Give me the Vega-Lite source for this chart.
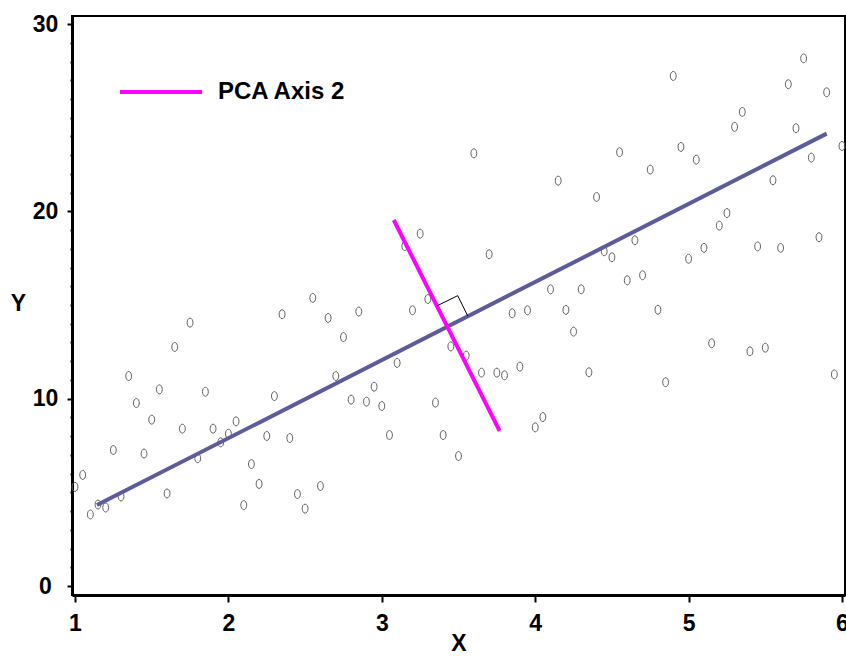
{
  "$schema": "https://vega.github.io/schema/vega-lite/v6.json",
  "autosize": "none",
  "width": 773,
  "height": 579,
  "padding": {"left": 72, "top": 16, "right": 1, "bottom": 61},
  "background": "white",
  "config": {
    "view": {"stroke": "black", "strokeWidth": 2},
    "font": "Liberation Sans"
  },
  "datasets": {
    "pts": [
      {"x": 1.00, "y": 5.29}, {"x": 1.05, "y": 5.93}, {"x": 1.10, "y": 3.82}, {"x": 1.15, "y": 4.35}, {"x": 1.20, "y": 4.19},
      {"x": 1.25, "y": 7.26}, {"x": 1.30, "y": 4.78}, {"x": 1.35, "y": 11.21}, {"x": 1.40, "y": 9.77}, {"x": 1.45, "y": 7.07},
      {"x": 1.50, "y": 8.88}, {"x": 1.55, "y": 10.50}, {"x": 1.60, "y": 4.94}, {"x": 1.65, "y": 12.76}, {"x": 1.70, "y": 8.40},
      {"x": 1.75, "y": 14.06}, {"x": 1.80, "y": 6.82}, {"x": 1.85, "y": 10.37}, {"x": 1.90, "y": 8.40}, {"x": 1.95, "y": 7.67},
      {"x": 2.00, "y": 8.13}, {"x": 2.05, "y": 8.79}, {"x": 2.10, "y": 4.32}, {"x": 2.15, "y": 6.51}, {"x": 2.20, "y": 5.45},
      {"x": 2.25, "y": 8.01}, {"x": 2.30, "y": 10.14}, {"x": 2.35, "y": 14.51}, {"x": 2.40, "y": 7.90}, {"x": 2.45, "y": 4.91},
      {"x": 2.50, "y": 4.13}, {"x": 2.55, "y": 15.38}, {"x": 2.60, "y": 5.34}, {"x": 2.65, "y": 14.31}, {"x": 2.70, "y": 11.21},
      {"x": 2.75, "y": 13.29}, {"x": 2.80, "y": 9.95}, {"x": 2.85, "y": 14.65}, {"x": 2.90, "y": 9.84}, {"x": 2.95, "y": 10.64},
      {"x": 3.00, "y": 9.61}, {"x": 3.05, "y": 8.06}, {"x": 3.10, "y": 11.91}, {"x": 3.15, "y": 18.15}, {"x": 3.20, "y": 14.72},
      {"x": 3.25, "y": 18.81}, {"x": 3.30, "y": 15.32}, {"x": 3.35, "y": 9.79}, {"x": 3.40, "y": 8.06}, {"x": 3.45, "y": 12.79},
      {"x": 3.50, "y": 6.94}, {"x": 3.55, "y": 12.30}, {"x": 3.60, "y": 23.10}, {"x": 3.65, "y": 11.39}, {"x": 3.70, "y": 17.71},
      {"x": 3.75, "y": 11.39}, {"x": 3.80, "y": 11.25}, {"x": 3.85, "y": 14.56}, {"x": 3.90, "y": 11.71}, {"x": 3.95, "y": 14.72},
      {"x": 4.00, "y": 8.47}, {"x": 4.05, "y": 9.02}, {"x": 4.10, "y": 15.84}, {"x": 4.15, "y": 21.64}, {"x": 4.20, "y": 14.74},
      {"x": 4.25, "y": 13.58}, {"x": 4.30, "y": 15.84}, {"x": 4.35, "y": 11.41}, {"x": 4.40, "y": 20.77}, {"x": 4.45, "y": 17.87},
      {"x": 4.50, "y": 17.55}, {"x": 4.55, "y": 23.16}, {"x": 4.60, "y": 16.32}, {"x": 4.65, "y": 18.46}, {"x": 4.70, "y": 16.59},
      {"x": 4.75, "y": 22.23}, {"x": 4.80, "y": 14.75}, {"x": 4.85, "y": 10.88}, {"x": 4.90, "y": 27.23}, {"x": 4.95, "y": 23.44},
      {"x": 5.00, "y": 17.47}, {"x": 5.05, "y": 22.76}, {"x": 5.10, "y": 18.05}, {"x": 5.15, "y": 12.96}, {"x": 5.20, "y": 19.24},
      {"x": 5.25, "y": 19.91}, {"x": 5.30, "y": 24.51}, {"x": 5.35, "y": 25.31}, {"x": 5.40, "y": 12.53}, {"x": 5.45, "y": 18.13},
      {"x": 5.50, "y": 12.72}, {"x": 5.55, "y": 21.66}, {"x": 5.60, "y": 18.05}, {"x": 5.65, "y": 26.79}, {"x": 5.70, "y": 24.44},
      {"x": 5.75, "y": 28.17}, {"x": 5.80, "y": 22.87}, {"x": 5.85, "y": 18.62}, {"x": 5.90, "y": 26.36}, {"x": 5.95, "y": 11.30},
      {"x": 6.00, "y": 23.49}
    ],
    "axis1": [{"x": 1.143, "y": 4.32}, {"x": 5.90, "y": 24.15}],
    "axis2": [{"x": 3.078, "y": 19.54, "s": "PCA Axis 2"}, {"x": 3.768, "y": 8.28, "s": "PCA Axis 2"}],
    "corner": [{"x": 3.361, "y": 14.96}, {"x": 3.495, "y": 15.50}, {"x": 3.560, "y": 14.42}]
  },
  "encoding": {
    "x": {
      "field": "x", "type": "quantitative",
      "scale": {"domain": [0.9804, 6.0196], "nice": false, "zero": false},
      "axis": {
        "values": [1, 2, 3, 4, 5, 6], "grid": false, "labelFlush": false, "labelOverlap": false,
        "domainColor": "black", "domainWidth": 3, "tickColor": "black", "tickWidth": 2, "tickSize": 7,
        "labelFont": "Liberation Sans", "labelFontSize": 23, "labelFontWeight": "bold", "labelColor": "black", "labelPadding": 10,
        "title": "X", "titleFont": "Liberation Sans", "titleFontSize": 23, "titleFontWeight": "bold", "titleColor": "black",
        "titleBaseline": "top", "titleY": 37
      }
    },
    "y": {
      "field": "y", "type": "quantitative",
      "scale": {"domain": [-0.48, 30.43], "nice": false, "zero": false},
      "axis": {
        "values": [0,1,2,3,4,5,6,7,8,9,10,11,12,13,14,15,16,17,18,19,20,21,22,23,24,25,26,27,28,29,30],
        "labelExpr": "datum.value % 10 === 0 ? datum.label : ''",
        "grid": false, "labelOverlap": false, "labelFlush": false,
        "domainColor": "black", "domainWidth": 3, "tickColor": "black", "tickWidth": 2,
        "tickSize": {"condition": {"test": "datum.value % 10 === 0", "value": 5}, "value": 2},
        "labelFont": "Liberation Sans", "labelFontSize": 23, "labelFontWeight": "bold", "labelColor": "black",
        "labelAlign": "center", "labelPadding": 22,
        "title": "Y", "titleFont": "Liberation Sans", "titleFontSize": 23, "titleFontWeight": "bold", "titleColor": "black",
        "titleAngle": 0, "titleAlign": "center", "titleBaseline": "middle", "titleX": -54, "titleY": 287
      }
    }
  },
  "layer": [
    {
      "data": {"name": "pts"},
      "mark": {"type": "point", "shape": "M0,-1A0.65,1,0,1,1,0,1A0.65,1,0,1,1,0,-1Z", "size": 81, "filled": false, "stroke": "#606060", "strokeWidth": 1, "opacity": 1}
    },
    {
      "data": {"name": "axis1"},
      "mark": {"type": "line", "color": "#5c5c9c", "strokeWidth": 4},
      "encoding": {}
    },
    {
      "data": {"name": "axis2"},
      "mark": {"type": "line", "strokeWidth": 4},
      "encoding": {
        "color": {
          "field": "s", "type": "nominal",
          "scale": {"domain": ["PCA Axis 2"], "range": ["#ff00ff"]},
          "legend": {
            "orient": "none", "legendX": 46, "legendY": 33, "title": null, "padding": 0,
            "symbolType": "stroke", "symbolSize": 6724, "symbolStrokeWidth": 4,
            "labelFont": "Liberation Sans", "labelFontSize": 24, "labelFontWeight": "bold", "labelColor": "black", "labelOffset": 14
          }
        }
      }
    },
    {
      "data": {"name": "corner"},
      "mark": {"type": "line", "color": "black", "strokeWidth": 1},
      "encoding": {}
    }
  ]
}
